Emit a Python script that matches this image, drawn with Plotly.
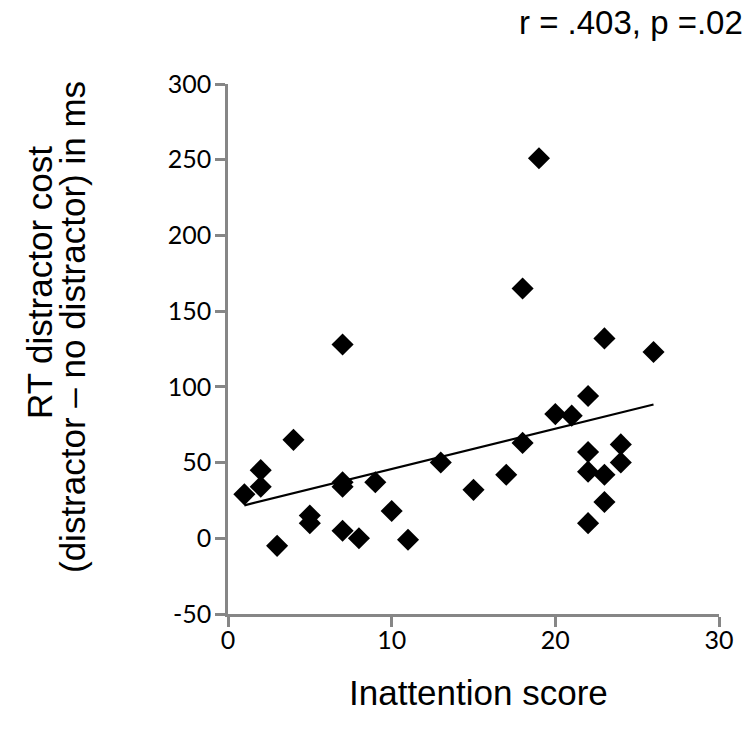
import numpy as np
import plotly.graph_objects as go

inattention = [1, 2, 2, 3, 4, 5, 5, 7, 7, 7, 7, 8, 9, 10, 11, 13, 15, 17, 18, 18,
               19, 20, 21, 22, 22, 22, 22, 23, 23, 23, 24, 24, 26]
rt_cost = [29, 45, 34, -5, 65, 15, 10, 128, 37, 34, 5, 0, 37, 18, -1, 50, 32, 42, 63, 165,
           251, 82, 81, 94, 57, 44, 10, 132, 42, 24, 62, 50, 123]

x_ticks = [0, 10, 20, 30]
y_ticks = [-50, 0, 50, 100, 150, 200, 250, 300]
y_tick_text = ["-50", "0", "50", "100", "150", "200", "250", "300"]

slope, intercept = np.polyfit(inattention, rt_cost, 1)
fit_x = [min(inattention), max(inattention)]
fit_y = [intercept + slope * v for v in fit_x]

# the page body margin is removed (see post_script), so the figure fills the window
W, H = 750, 736
L, T = 228, 84
R = W - 719
B = H - 614
PW, PH = W - L - R, H - T - B


def px_x(px):
    return (px - L) / PW


def px_y(py):
    return (H - B - py) / PH


fig = go.Figure()
fig.add_trace(go.Scatter(x=fit_x, y=fit_y, mode="lines",
                         line=dict(color="black", width=2.2), hoverinfo="skip"))
fig.add_trace(go.Scatter(x=inattention, y=rt_cost, mode="markers",
                         marker=dict(symbol="diamond", size=17, color="black",
                                     line=dict(width=0))))

axis_common = dict(showline=True, linecolor="#868686", linewidth=2.5,
                   ticks="outside", tickcolor="#868686", tickwidth=2.5, ticklen=10,
                   showgrid=False, zeroline=False,
                   tickfont=dict(family="Lato", size=25, color="black"))

title_font = dict(family="Liberation Sans", size=35, color="black")

fig.update_layout(
    width=W, height=H,
    margin=dict(l=L, r=R, t=T, b=B),
    paper_bgcolor="white", plot_bgcolor="white",
    showlegend=False,
    xaxis=dict(range=[0, 30], tickvals=x_ticks, ticklabelstandoff=-8, **axis_common),
    yaxis=dict(range=[-50, 300], tickvals=y_ticks, ticktext=y_tick_text,
               ticklabelstandoff=-1, **axis_common),
    annotations=[
        dict(text="r = .403, p =.02", xref="paper", yref="paper", x=px_x(745), y=px_y(22),
             xanchor="right", yanchor="middle", showarrow=False,
             font=dict(family="Liberation Sans", size=33, color="black")),
        dict(text="Inattention score", xref="paper", yref="paper", x=px_x(478), y=px_y(692),
             xanchor="center", yanchor="middle", showarrow=False, font=title_font),
        dict(text="RT distractor cost", xref="paper", yref="paper", x=px_x(39), y=px_y(283),
             xanchor="center", yanchor="middle", textangle=-90, showarrow=False,
             font=title_font),
        dict(text="(distractor \u2013 no distractor) in ms", xref="paper", yref="paper",
             x=px_x(72), y=px_y(327),
             xanchor="center", yanchor="middle", textangle=-90, showarrow=False,
             font=title_font),
    ],
)

fig.write_html("out.html",
               config={"displayModeBar": False},
               post_script="document.body.style.margin='0px';")
